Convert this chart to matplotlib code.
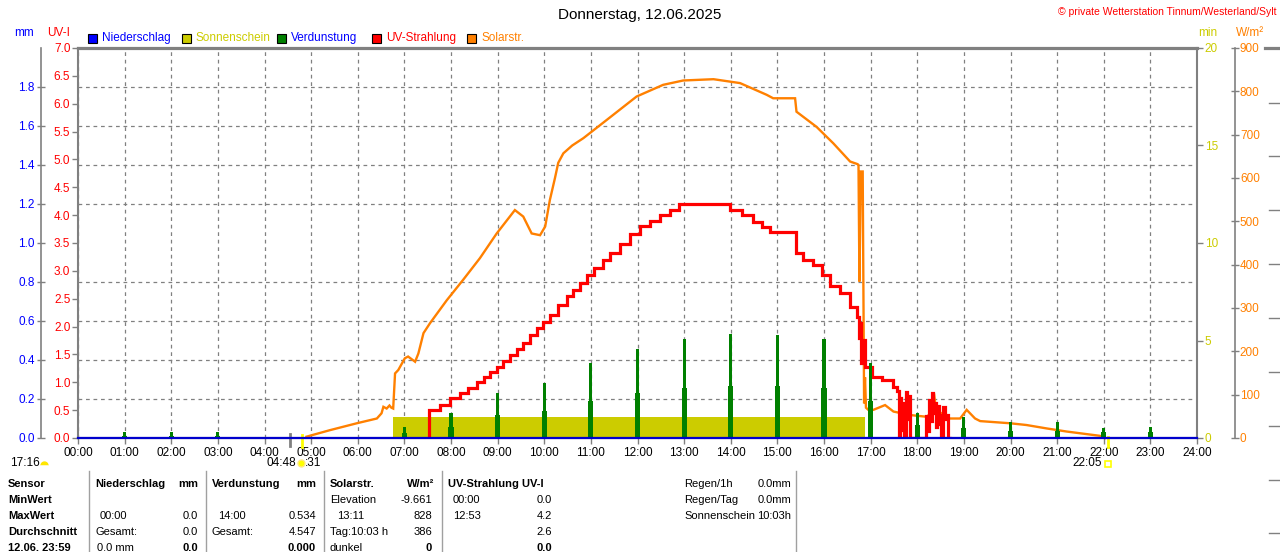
import matplotlib
matplotlib.use('Agg')
import matplotlib.pyplot as plt
from matplotlib.lines import Line2D
from matplotlib.patches import Rectangle

plt.rcParams['font.family'] = ['Liberation Sans', 'DejaVu Sans']
plt.rcParams['font.size'] = 8

# ---------------- data ----------------
hours = list(range(25))
hour_labels = [f"{h:02d}:00" for h in hours]
mm_ticks = [0.0, 0.2, 0.4, 0.6, 0.8, 1.0, 1.2, 1.4, 1.6, 1.8]
uv_ticks = [0.0, 0.5, 1.0, 1.5, 2.0, 2.5, 3.0, 3.5, 4.0, 4.5, 5.0, 5.5, 6.0, 6.5, 7.0]
min_ticks = [0, 5, 10, 15, 20]
wm2_ticks = [0, 100, 200, 300, 400, 500, 600, 700, 800, 900]

solar_t = [4.90, 5.40, 5.98, 6.41, 6.51, 6.55, 6.62, 6.68, 6.72, 6.76, 6.80, 6.87,
           7.01, 7.08, 7.23, 7.30, 7.41, 7.55, 7.91, 8.26, 8.62, 8.98, 9.37, 9.55,
           9.73, 9.91, 10.02, 10.12, 10.23, 10.30, 10.41, 10.60, 10.84, 11.34, 11.98,
           12.55, 12.98, 13.63, 14.20, 14.77, 14.91, 15.38, 15.41, 15.84, 16.20,
           16.56, 16.72, 16.74, 16.76, 16.79, 16.83, 16.86, 16.88, 16.90, 16.95,
           17.06, 17.31, 17.49, 17.85, 18.20, 18.33, 18.36, 18.40, 18.70, 18.92,
           19.06, 19.24, 19.35, 19.99, 20.34, 20.78, 21.20, 21.63, 21.92, 22.03]
solar_w = [3, 18, 34, 45, 57, 72, 68, 75, 70, 68, 149, 157,
           184, 188, 176, 195, 242, 265, 318, 365, 415, 472, 526, 511,
           472, 468, 488, 549, 600, 635, 657, 675, 692, 734, 788,
           815, 825, 828, 819, 792, 784, 784, 753, 718, 680,
           638, 632, 630, 361, 615, 615, 80, 140, 70, 65,
           65, 76, 61, 53, 49, 60, 103, 65, 45, 45,
           65, 45, 39, 34, 30, 22, 15, 9, 5, 0]

uv_t = [7.52, 7.53, 7.76, 7.98, 8.19, 8.37, 8.55, 8.70, 8.84, 8.98, 9.12, 9.27,
        9.41, 9.55, 9.70, 9.84, 9.98, 10.12, 10.30, 10.48, 10.62, 10.77, 10.92,
        11.06, 11.27, 11.41, 11.62, 11.84, 12.05, 12.27, 12.48, 12.70, 12.88,
        13.98, 14.25, 14.48, 14.66, 14.84, 15.41, 15.56, 15.77, 15.95, 16.13,
        16.34, 16.56, 16.70, 16.74, 16.77, 16.80, 16.84, 16.88, 17.02, 17.24,
        17.49, 17.57, 17.60, 17.63, 17.66, 17.69, 17.72, 17.76, 17.79, 17.82,
        17.85, 18.19, 18.22, 18.25, 18.28, 18.31, 18.34, 18.37, 18.40, 18.43,
        18.46, 18.49, 18.52, 18.56, 18.59, 18.62, 18.66, 18.70]
uv_v = [0.0, 0.50, 0.59, 0.71, 0.80, 0.89, 1.01, 1.10, 1.19, 1.28, 1.38, 1.49,
        1.60, 1.70, 1.84, 1.97, 2.09, 2.21, 2.38, 2.54, 2.66, 2.78, 2.92,
        3.06, 3.20, 3.32, 3.49, 3.67, 3.81, 3.90, 4.00, 4.09, 4.20,
        4.09, 4.00, 3.88, 3.79, 3.69, 3.32, 3.20, 3.11, 2.93, 2.72,
        2.60, 2.36, 2.18, 1.79, 2.06, 1.34, 1.76, 1.28, 1.10, 1.04,
        0.92, 0.85, 0.0, 0.72, 0.15, 0.62, 0.0, 0.82, 0.35, 0.76,
        0.0, 0.40, 0.12, 0.68, 0.30, 0.80, 0.45, 0.62, 0.20, 0.58,
        0.25, 0.42, 0.0, 0.55, 0.35, 0.42, 0.0, 0.0]

evap_hours = [1, 2, 3, 7, 8, 9, 10, 11, 12, 13, 14, 15, 16, 17, 18, 19, 20, 21, 22, 23]
evap_peak = [0.03, 0.03, 0.03, 0.055, 0.13, 0.23, 0.28, 0.385, 0.456, 0.508, 0.534,
             0.53, 0.51, 0.383, 0.13, 0.106, 0.08, 0.08, 0.053, 0.055]
evap_shoulder = [0.012, 0.012, 0.012, 0.025, 0.058, 0.116, 0.14, 0.19, 0.23, 0.258,
                 0.267, 0.265, 0.255, 0.19, 0.067, 0.05, 0.036, 0.036, 0.03, 0.03]

sun_start, sun_end, sun_level = 6.76, 16.88, 1.07
precip_t = [0, 24]
precip_mm = [0.0, 0.0]
dawn_h, sunrise_h, sunset_h = 4.55, 4.80, 22.083

# ---------------- colours ----------------
GRAY = '#808080'
BLUE = '#0000FF'
RED = '#FF0000'
YEL = '#CCCC00'
GRN = '#008000'
ORG = '#FF8000'

W, H = 1280, 552
fig = plt.figure(figsize=(W / 100, H / 100), dpi=100)
fig.patch.set_facecolor('white')


def fx(x):
    return x / W


def fy(y):
    return 1 - y / H


rect = [fx(78), fy(438), (1197 - 78) / W, (438 - 48) / H]
ax_min = fig.add_axes(rect)
ax_w = ax_min.twinx()
ax_uv = ax_min.twinx()
ax_mm = ax_min.twinx()

for a in (ax_min, ax_w, ax_uv, ax_mm):
    a.set_xlim(0, 24)
    a.margins(x=0)

# base axes: sunshine (min), grid, x axis
ax_min.set_ylim(0, 20)
ax_min.yaxis.tick_right()
ax_min.set_yticks(min_ticks)
ax_min.set_yticklabels([str(v) for v in min_ticks])
ax_min.set_yticks([2, 4, 6, 8, 12, 14, 16, 18, 10], minor=True)
ax_min.tick_params(axis='y', which='major', colors=GRAY, labelcolor=YEL, length=4,
                   width=1, pad=1.5, labelsize=8.5)
ax_min.tick_params(axis='y', which='minor', length=0)
ax_min.set_xticks(hours)
ax_min.set_xticklabels(hour_labels)
ax_min.tick_params(axis='x', colors=GRAY, labelcolor='black', length=4, width=1,
                   pad=2.5, labelsize=8.5)
ax_min.set_axisbelow(True)
ax_min.grid(axis='x', which='major', color=GRAY, linestyle=(0, (3, 3)), lw=0.9)
ax_min.grid(axis='y', which='minor', color=GRAY, linestyle=(0, (3, 3)), lw=0.9)
for s in ('left', 'right', 'bottom'):
    ax_min.spines[s].set_color(GRAY)
    ax_min.spines[s].set_linewidth(1.5)
ax_min.spines['top'].set_color(GRAY)
ax_min.spines['top'].set_linewidth(2.3)
ax_min.bar([sun_start], [sun_level], width=sun_end - sun_start, align='edge',
           color=YEL, lw=0, zorder=1)

# solar radiation
ax_w.set_ylim(0, 900)
ax_w.set_yticks(wm2_ticks)
ax_w.set_yticklabels([str(v) for v in wm2_ticks])
for s in ('left', 'top', 'bottom'):
    ax_w.spines[s].set_visible(False)
ax_w.spines['right'].set_position(('outward', 27.4))
ax_w.spines['right'].set_color(GRAY)
ax_w.spines['right'].set_linewidth(1.2)
ax_w.tick_params(axis='y', direction='inout', length=6, width=1, colors=GRAY,
                 labelcolor=ORG, pad=0.5, labelsize=8.5)
ax_w.plot(solar_t, solar_w, color=ORG, lw=1.7, solid_joinstyle='miter', clip_on=False)

# UV index
ax_uv.set_ylim(0, 7)
ax_uv.yaxis.tick_left()
ax_uv.set_yticks(uv_ticks)
ax_uv.set_yticklabels([f"{v:.1f}" for v in uv_ticks])
for s in ax_uv.spines.values():
    s.set_visible(False)
ax_uv.tick_params(axis='y', direction='out', length=4, width=1, colors=GRAY,
                  labelcolor=RED, pad=1.5, labelsize=8.5)
ax_uv.plot(uv_t, uv_v, color=RED, lw=2.3, drawstyle='steps-post',
           solid_joinstyle='miter')

# evaporation / precipitation (mm)
ax_mm.set_ylim(0, 2.0)
ax_mm.yaxis.tick_left()
ax_mm.set_yticks(mm_ticks)
ax_mm.set_yticklabels([f"{v:.1f}" for v in mm_ticks])
for s in ('right', 'top', 'bottom'):
    ax_mm.spines[s].set_visible(False)
ax_mm.spines['left'].set_position(('outward', 26.6))
ax_mm.spines['left'].set_color(GRAY)
ax_mm.spines['left'].set_linewidth(1.2)
ax_mm.tick_params(axis='y', direction='inout', length=6, width=1, colors=GRAY,
                  labelcolor=BLUE, pad=1.5, labelsize=8.5)
ax_mm.bar(evap_hours, evap_shoulder, width=0.11, color=GRN, lw=0)
ax_mm.bar(evap_hours, evap_peak, width=0.065, color=GRN, lw=0)
ax_mm.plot(precip_t, precip_mm, color='#0000CC', lw=1.6, clip_on=False)

# sun markers below the axis
xt = ax_min.get_xaxis_transform()
ax_min.plot([dawn_h, dawn_h], [-0.021, 0.011], transform=xt, color=GRAY, lw=2,
            clip_on=False)
ax_min.plot([sunrise_h, sunrise_h], [-0.024, 0.008], transform=xt, color='#FFFF00',
            lw=2, clip_on=False)
ax_min.plot([sunset_h, sunset_h], [-0.024, 0.003], transform=xt, color='#FFFF00',
            lw=2, clip_on=False)


def T(x, y, s, **kw):
    kw.setdefault('va', 'center')
    kw.setdefault('fontsize', 8)
    fig.text(fx(x), fy(y), s, **kw)


# headers
T(640, 15, 'Donnerstag, 12.06.2025', ha='center', fontsize=11)
T(1276, 12, '© private Wetterstation Tinnum/Westerland/Sylt', ha='right',
  fontsize=7.5, color=RED)
T(14, 33, 'mm', color=BLUE, fontsize=8.5)
T(47, 33, 'UV-I', color=RED, fontsize=8.5)
T(1198, 33, 'min', color=YEL, fontsize=8.5)
T(1236, 33, 'W/m²', color=ORG, fontsize=8.5)

legend = [('Niederschlag', BLUE, BLUE, 88),
          ('Sonnenschein', YEL, YEL, 182),
          ('Verdunstung', GRN, BLUE, 277),
          ('UV-Strahlung', RED, RED, 372),
          ('Solarstr.', ORG, ORG, 467)]
for name, fc, tc, x in legend:
    fig.add_artist(Rectangle((fx(x), fy(43)), 9 / W, 9 / H, transform=fig.transFigure,
                             facecolor=fc, edgecolor='black', lw=0.8))
    T(x + 14, 38, name, color=tc, fontsize=8.5)

# sun / moon times
T(10, 463, '17:16', fontsize=8.5)
fig.add_artist(Line2D([fx(44)], [fy(465)], transform=fig.transFigure, marker='o',
                      ms=6, fillstyle='top', markerfacecolor='#FFE600',
                      markerfacecoloralt='white', markeredgewidth=0))
T(296, 463, '04:48', ha='right', fontsize=8.5)
fig.add_artist(Line2D([fx(301)], [fy(463)], transform=fig.transFigure, marker='o',
                      ms=5, markerfacecolor='#FFFF00', markeredgecolor='#FFE880',
                      markeredgewidth=1))
T(305, 463, ':31', fontsize=8.5)
T(1102, 463, '22:05', ha='right', fontsize=8.5)
fig.add_artist(Line2D([fx(1108)], [fy(464)], transform=fig.transFigure, marker='s',
                      ms=4.5, markerfacecolor='none', markeredgecolor='#FFFF00',
                      markeredgewidth=1.2))

# right edge fragments of a neighbouring chart
fig.add_artist(Line2D([fx(1265), fx(1280)], [fy(48), fy(48)], transform=fig.transFigure,
                      color=GRAY, lw=2.3))
for yy in [103, 156, 210, 264, 318, 372, 426, 480, 533]:
    fig.add_artist(Line2D([fx(1269), fx(1279)], [fy(yy), fy(yy)],
                          transform=fig.transFigure, color=GRAY, lw=1))

# table separators
for xx in [89, 206, 324, 442, 796]:
    fig.add_artist(Line2D([fx(xx), fx(xx)], [fy(471), fy(552)], transform=fig.transFigure,
                          color='#A0A0A0', lw=1))

rows = [484, 500, 516, 532, 548]
B = dict(fontweight='bold')
for txt, y in zip(['Sensor', 'MinWert', 'MaxWert', 'Durchschnitt', '12.06. 23:59'], rows):
    T(8, y, txt, **B)

T(95, rows[0], 'Niederschlag', **B)
T(198, rows[0], 'mm', ha='right', **B)
T(100, rows[2], '00:00')
T(198, rows[2], '0.0', ha='right')
T(95, rows[3], 'Gesamt:')
T(198, rows[3], '0.0', ha='right')
T(97, rows[4], '0.0 mm')
T(198, rows[4], '0.0', ha='right', **B)

T(212, rows[0], 'Verdunstung', **B)
T(316, rows[0], 'mm', ha='right', **B)
T(218, rows[2], '14:00')
T(316, rows[2], '0.534', ha='right')
T(212, rows[3], 'Gesamt:')
T(316, rows[3], '4.547', ha='right')
T(316, rows[4], '0.000', ha='right', **B)

T(330, rows[0], 'Solarstr.', **B)
T(434, rows[0], 'W/m²', ha='right', **B)
T(330, rows[1], 'Elevation')
T(432, rows[1], '-9.661', ha='right')
T(337, rows[2], '13:11')
T(432, rows[2], '828', ha='right')
T(330, rows[3], 'Tag:10:03 h')
T(432, rows[3], '386', ha='right')
T(330, rows[4], 'dunkel')
T(432, rows[4], '0', ha='right', **B)

T(448, rows[0], 'UV-Strahlung UV-I', **B)
T(453, rows[1], '00:00')
T(552, rows[1], '0.0', ha='right')
T(453, rows[2], '12:53')
T(552, rows[2], '4.2', ha='right')
T(552, rows[3], '2.6', ha='right')
T(552, rows[4], '0.0', ha='right', **B)

for lab, val, y in [('Regen/1h', '0.0mm', rows[0]), ('Regen/Tag', '0.0mm', rows[1]),
                    ('Sonnenschein', '10:03h', rows[2])]:
    T(684, y, lab)
    T(791, y, val, ha='right')

fig.savefig('out.png', dpi=100, facecolor='white')
